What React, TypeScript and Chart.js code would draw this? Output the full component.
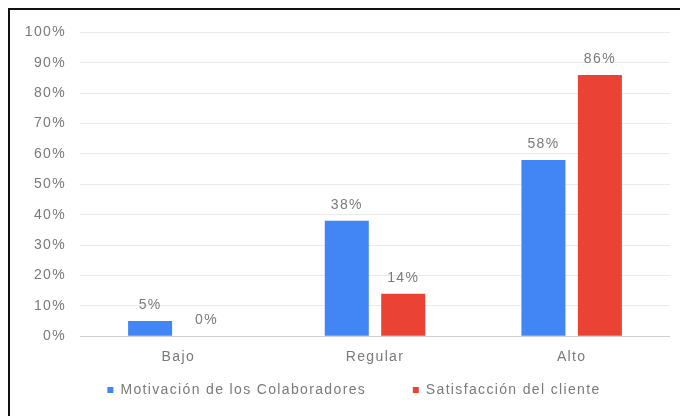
import React, { useEffect, useRef } from "react";
import { Chart, registerables } from "chart.js";

Chart.register(...registerables);

const categories = ["Bajo", "Regular", "Alto"];
const motivacion = [5, 38, 58];
const satisfaccion = [0, 14, 86];
const seriesNames = ["Motivación de los Colaboradores", "Satisfacción del cliente"];
const yTicks = [0, 10, 20, 30, 40, 50, 60, 70, 80, 90, 100];

const FONT = "'Liberation Sans', Arial, sans-serif";
const TEXT = "#7a7a7a";
const SPACING = "1.35px";

const spacingPlugin = {
  id: "spacing",
  beforeUpdate(chart: any) {
    chart.ctx.letterSpacing = SPACING;
  },
  beforeDraw(chart: any) {
    chart.ctx.letterSpacing = SPACING;
  },
};

const valueLabels = {
  id: "valueLabels",
  afterDatasetsDraw(chart: any) {
    const ctx = chart.ctx;
    ctx.save();
    ctx.letterSpacing = SPACING;
    ctx.font = `14px ${FONT}`;
    ctx.fillStyle = TEXT;
    ctx.textAlign = "center";
    ctx.textBaseline = "alphabetic";
    chart.data.datasets.forEach((ds: any, i: number) => {
      const meta = chart.getDatasetMeta(i);
      meta.data.forEach((el: any, j: number) => {
        ctx.fillText(ds.data[j] + "%", el.x, el.y - 12);
      });
    });
    ctx.restore();
  },
};

export default function App() {
  const ref = useRef<HTMLCanvasElement>(null);
  useEffect(() => {
    if (!ref.current) return;
    const chart = new Chart(ref.current, {
      type: "bar",
      data: {
        labels: categories,
        datasets: [
          {
            label: seriesNames[0],
            data: motivacion,
            backgroundColor: "#4285F4",
            categoryPercentage: 0.574,
            barPercentage: 0.78,
          },
          {
            label: seriesNames[1],
            data: satisfaccion,
            backgroundColor: "#EA4335",
            categoryPercentage: 0.574,
            barPercentage: 0.78,
          },
        ],
      },
      options: {
        animation: false,
        responsive: true,
        maintainAspectRatio: false,
        layout: { padding: { left: 0, top: 21, right: 0, bottom: 9 } },
        plugins: {
          legend: {
            position: "bottom",
            labels: {
              boxWidth: 6,
              boxHeight: 6,
              padding: 10,
              color: TEXT,
              font: { family: FONT, size: 14 },
              generateLabels: (chart: any) => {
                const items = Chart.defaults.plugins.legend.labels.generateLabels(chart);
                items.forEach((it: any, i: number) => {
                  if (i === 0) it.text = it.text + "       ";
                  it.lineWidth = 0;
                });
                return items;
              },
            },
          },
          tooltip: { enabled: false },
        },
        scales: {
          x: {
            grid: { display: false, drawTicks: false },
            border: { display: false },
            ticks: { color: TEXT, font: { family: FONT, size: 14 }, padding: 13 },
            afterFit: (scale: any) => {
              scale.height -= 6;
            },
          },
          y: {
            min: yTicks[0],
            max: yTicks[yTicks.length - 1],
            afterBuildTicks: (axis: any) => {
              axis.ticks = yTicks.map((v) => ({ value: v }));
            },
            afterFit: (scale: any) => {
              scale.width = 70;
            },
            grid: {
              drawTicks: false,
              color: (c: any) => (c.tick && c.tick.value === 0 ? "#d0d0d0" : "#ebebeb"),
            },
            border: { display: false },
            ticks: {
              color: TEXT,
              font: { family: FONT, size: 14 },
              padding: 14,
              callback: (v: any) => v + "%",
            },
          },
          yRight: {
            position: "right",
            display: true,
            grid: { display: false, drawTicks: false },
            border: { display: false },
            ticks: { display: false },
            afterFit: (scale: any) => {
              scale.width = 28;
            },
          },
        },
      },
      plugins: [spacingPlugin, valueLabels],
    });
    return () => chart.destroy();
  }, []);

  return (
    <div style={{ position: "fixed", left: 0, top: 0, width: 680, height: 416, overflow: "hidden", background: "#fff" }}>
      <div
        style={{
          position: "absolute",
          left: 8,
          top: 8,
          width: 710,
          height: 440,
          border: "2px solid #111",
          boxSizing: "border-box",
        }}
      >
        <div style={{ position: "absolute", left: 0, top: 0, width: 688, height: 406 }}>
          <canvas ref={ref} />
        </div>
      </div>
    </div>
  );
}
